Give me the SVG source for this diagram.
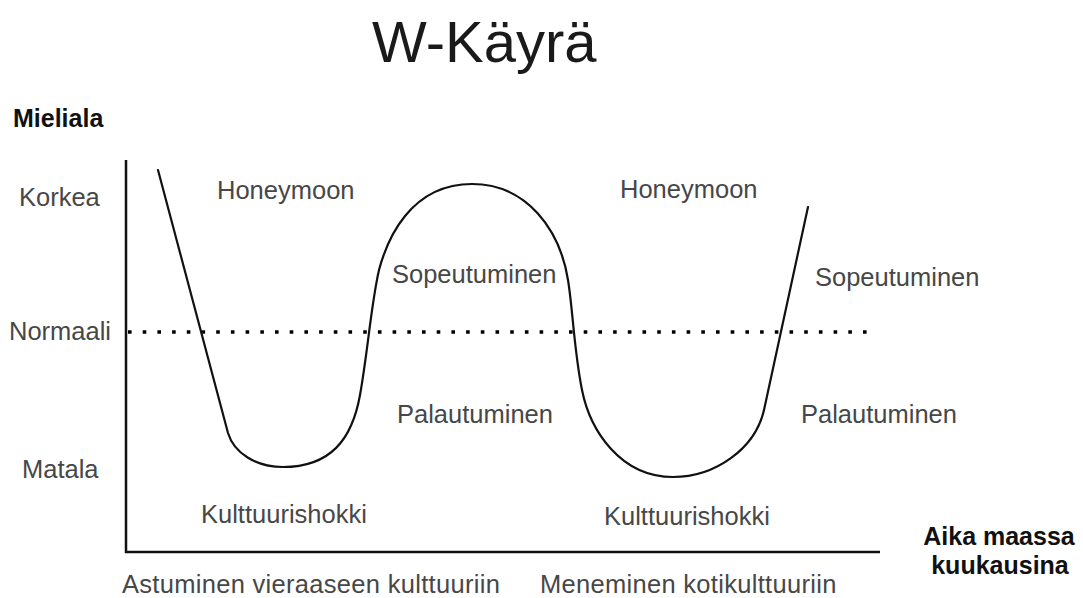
<svg xmlns="http://www.w3.org/2000/svg" width="1083" height="598" viewBox="0 0 1083 598">
<style>
  .t { font-family: "Liberation Sans", Arial, sans-serif; font-size: 25.5px; fill: #474747; }
  .w { letter-spacing: 0.3px; }
  .b { font-family: "Liberation Sans", Arial, sans-serif; font-size: 25px; font-weight: bold; fill: #111; }
  .title { font-family: "Liberation Sans", Arial, sans-serif; font-size: 58px; fill: #1a1a1a; }
  .axis { stroke: #111; stroke-width: 2.5; fill: none; }
  .curve { stroke: #111; stroke-width: 2.2; fill: none; stroke-linejoin: round; stroke-linecap: round; }
  .dots { stroke: #000; stroke-width: 3.6; stroke-dasharray: 3.6 11.1; fill: none; }
</style>
<rect width="1083" height="598" fill="#fff"/>
<g id="title"><text class="title" x="372" y="62">W-Käyrä</text></g>
<g id="axes">
  <line class="axis" x1="126" y1="160" x2="126" y2="553"/>
  <line class="axis" x1="125" y1="552" x2="880" y2="552"/>
</g>
<g id="normal-line"><line class="dots" x1="128" y1="332" x2="868" y2="332"/></g>
<g id="connectors">
  <path class="curve" d="M158,170 L228,433 C234,453 256,467 283,467 C330,467 352,440 360,395 C368,350 371,305 379,270 C387,240 410,184 472,184 C527,184 560,230 568,280 C573,311 574,350 582,390 C590,430 620,477 673,477 C715,477 755,449 764,410 L808,207"/>
</g>
<g id="y-labels">
  <text class="b" x="13" y="127">Mieliala</text>
  <text class="t" x="19" y="206">Korkea</text>
  <text class="t" x="9" y="340">Normaali</text>
  <text class="t" x="22" y="478">Matala</text>
</g>
<g id="phase-labels">
  <text class="t" x="217" y="199">Honeymoon</text>
  <text class="t" x="620" y="198">Honeymoon</text>
  <text class="t" x="392" y="283">Sopeutuminen</text>
  <text class="t" x="815" y="286">Sopeutuminen</text>
  <text class="t" x="397" y="423">Palautuminen</text>
  <text class="t" x="801" y="423">Palautuminen</text>
  <text class="t" x="201" y="523">Kulttuurishokki</text>
  <text class="t" x="604" y="525">Kulttuurishokki</text>
</g>
<g id="x-labels">
  <text class="b" x="999" y="545" text-anchor="middle">Aika maassa</text>
  <text class="b" x="1000" y="574" text-anchor="middle">kuukausina</text>
  <text class="t w" x="122" y="593">Astuminen vieraaseen kulttuuriin</text>
  <text class="t w" x="540" y="593">Meneminen kotikulttuuriin</text>
</g>
</svg>
